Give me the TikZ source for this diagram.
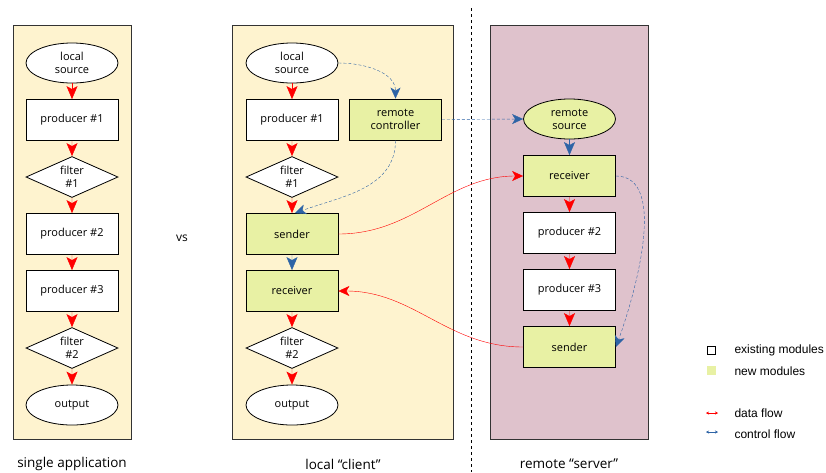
\documentclass[tikz,border=0pt]{standalone}
\usepackage{fontspec}
\setmainfont{Open Sans}
\newfontfamily\legendfont{Liberation Sans}
\usepackage{tikz}
\usetikzlibrary{shapes,arrows.meta}
\definecolor{panelyellow}{HTML}{FEF3CF}
\definecolor{panelpink}{HTML}{DFC2CC}
\definecolor{newgreen}{HTML}{E8F1A4}
\definecolor{ctrlblue}{HTML}{2E64A6}

\begin{document}
\begin{tikzpicture}[x=1pt,y=1pt,font=\fontsize{11}{13}\selectfont]
  \tikzstyle{module}=[draw=black,text=black,thick,fill=white,minimum width=92pt,minimum height=41pt,align=center,inner sep=2pt]
  \tikzstyle{oldbox}=[module,rectangle]
  \tikzstyle{newbox}=[module,rectangle,fill=newgreen]
  \tikzstyle{endpoint}=[module,ellipse,minimum height=40pt,inner sep=0pt]
  \tikzstyle{filterbox}=[module,diamond,shape aspect=2.25,inner sep=0pt]
  \tikzstyle{bigtip}=[-{Stealth[length=13pt,width=11pt,inset=3pt]}]
  \tikzstyle{dataarrow}=[draw,red,bigtip]
  \tikzstyle{ctrlarrow}=[draw,ctrlblue,bigtip]
  \tikzstyle{datacurve}=[red,-{Stealth[length=11pt,width=10pt,inset=3pt]}]
  \tikzstyle{ctrlcurve}=[ctrlblue,densely dashed,-{Stealth[length=11pt,width=10pt,inset=3pt]}]
  \tikzstyle{panellabel}=[font=\fontsize{13.5}{15}\selectfont]
  \tikzstyle{keytext}=[anchor=west,font=\legendfont\fontsize{12}{14}\selectfont]
  \tikzstyle{level 1}=[level distance=57pt]
  \tikzstyle{edge from parent}=[dataarrow]
\useasboundingbox (0,0) rectangle (826,-472);

% panels
\filldraw[fill=panelyellow,draw=black!80] (13,-25) rectangle (131,-439);
\filldraw[fill=panelyellow,draw=black!80] (232,-25) rectangle (453,-439);
\filldraw[fill=panelpink,draw=black!80] (490,-25) rectangle (648,-439);
\draw[dashed] (471,-8) -- (471,-472);

% single application
\node[endpoint] (lsA) at (72,-63) {local\\source}
	child{node[oldbox] (p1A) {producer \#1} child{node[filterbox] (f1A) {filter\\\#1} child{node[oldbox] (p2A) {producer \#2} child{node[oldbox] (p3A) {producer \#3} child{node[filterbox] (f2A) {filter\\\#2} child{node[endpoint] (outA) {output}}}}}}};

% local client
\node[endpoint] (lsB) at (292,-63) {local\\source}
	child{node[oldbox] (p1B) {producer \#1} child{node[filterbox] (f1B) {filter\\\#1} child{node[newbox] (sndB) {sender} child{node[newbox] (rcvB) {receiver} child{node[filterbox] (f2B) {filter\\\#2} child{node[endpoint] (outB) {output}}} edge from parent[ctrlarrow]}}}};
\node[newbox] (rcB) at (395.5,-119.5) {remote\\controller};

% remote server
\node[endpoint,fill=newgreen] (rsC) at (569.5,-119) {remote\\source}
	child{node[newbox] (rcvC) {receiver} child{node[oldbox] (p2C) {producer \#2} child{node[oldbox] (p3C) {producer \#3} child{node[newbox] (sndC) {sender}}}} edge from parent[ctrlarrow]};

% control flow
\draw[ctrlcurve] (lsB.east) to[out=0,in=90] (rcB.north);
\draw[ctrlcurve] (rcB.south) to[out=-90,in=20] ([xshift=3pt]sndB.north);
\draw[ctrlcurve] (rcB.east) -- (rsC.west);
\draw[ctrlcurve] (rcvC.east) to[out=0,in=70,looseness=0.8] (sndC.east);

% data flow
\draw[datacurve] (sndB.east) to[out=0,in=180] (rcvC.west);
\draw[datacurve] (sndC.west) to[out=180,in=0] (rcvB.east);

% labels
\node[panellabel] (labA) at (72,-464) {single application};
\node[panellabel] (labB) at (343,-464) {local “client”};
\node[panellabel] (labC) at (569,-464) {remote “server”};
\node[font=\fontsize{12}{14}\selectfont] (vs) at (182,-238) {vs};

% legend
\node[draw,thick,fill=white,minimum size=8pt,inner sep=0pt] (keyOld) at (711.5,-350) {};
\node[fill=newgreen,minimum size=9pt,inner sep=0pt] (keyNew) at (711.5,-370) {};
\coordinate (keyDataL) at (706,-413);
\coordinate (keyDataR) at (718,-413);
\coordinate (keyCtrlL) at (706,-432);
\coordinate (keyCtrlR) at (718,-432);
\draw[red,{Stealth[length=3pt,width=3pt]}-{Stealth[length=3pt,width=3pt]}] (keyDataL) -- (keyDataR);
\draw[ctrlblue,{Stealth[length=3pt,width=3pt]}-{Stealth[length=3pt,width=3pt]}] (keyCtrlL) -- (keyCtrlR);
\node[keytext] (txtOld) at (731,-350) {existing modules};
\node[keytext] (txtNew) at (731,-371) {new modules};
\node[keytext] (txtData) at (731,-413) {data flow};
\node[keytext] (txtCtrl) at (731,-434) {control flow};
\end{tikzpicture}
\end{document}
